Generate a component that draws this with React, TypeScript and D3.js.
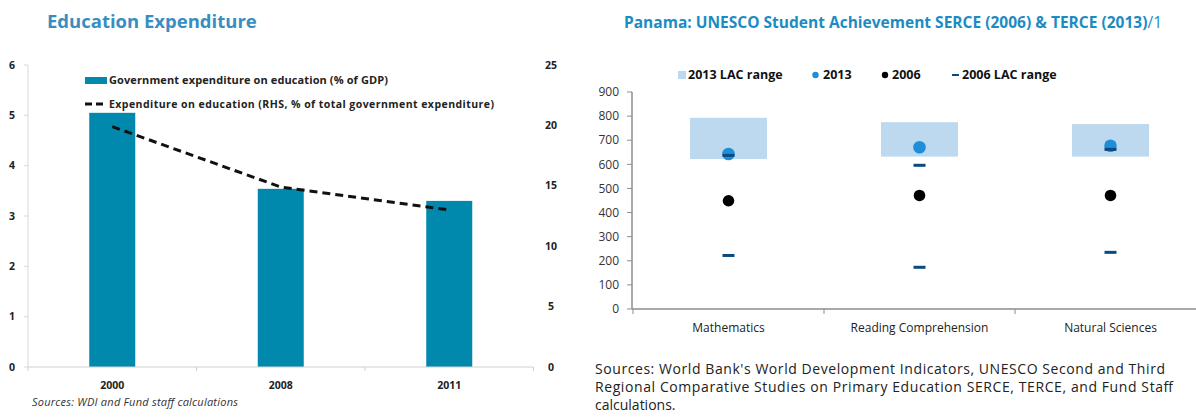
import React from "react";
import * as d3 from "d3";

// ---------- Left chart data ----------
const years = ["2000", "2008", "2011"];
const gdpShare = [5.05, 3.54, 3.3];
const totalShare = [19.9, 14.9, 13.0];
const leftTicks = [0, 1, 2, 3, 4, 5, 6];
const rightTicks = [0, 5, 10, 15, 20, 25];

// ---------- Right chart data ----------
const subjects = ["Mathematics", "Reading Comprehension", "Natural Sciences"];
const lac2013Low = [622, 632, 632];
const lac2013High = [793, 775, 767];
const score2013 = [643, 671, 677];
const score2006 = [449, 471, 471];
const lac2006Low = [222, 173, 235];
const lac2006High = [637, 596, 662];
const scoreTicks = [0, 100, 200, 300, 400, 500, 600, 700, 800, 900];

const FONT = "'Open Sans', 'Noto Sans', sans-serif";

export default function App() {
  // Left chart scales
  const xL = d3.scaleBand<string>().domain(years).range([28, 533.5]).paddingInner(0).paddingOuter(0);
  const yL = d3.scaleLinear().domain([0, 6]).range([367, 65]);
  const yR = d3.scaleLinear().domain([0, 25]).range([367, 65]);
  const barW = 46;
  const line = d3
    .line<number>()
    .x((_, i) => (xL(years[i]) as number) + xL.bandwidth() / 2)
    .y((d) => yR(d));

  // Right chart scales
  const xS = d3.scaleBand<string>().domain(subjects).range([633, 1206]);
  const yS = d3.scaleLinear().domain([0, 900]).range([309, 92]);
  const boxW = 77;

  return (
    <svg
      width={1196}
      height={419}
      style={{ position: "absolute", left: 0, top: 0, background: "#fff" }}
      fontFamily={FONT}
    >
      {/* ================= LEFT CHART ================= */}
      <text x={47} y={28} fontSize={18.5} fontWeight="bold" fill="#3a8dc0">
        Education Expenditure
      </text>

      {/* left axis */}
      <line x1={28} x2={28} y1={yL(6)} y2={yL(0)} stroke="#d9d9d9" />
      {leftTicks.map((t) => (
        <g key={"lt" + t}>
          <line x1={24} x2={28} y1={yL(t)} y2={yL(t)} stroke="#d9d9d9" />
          <text x={12} y={yL(t)} dy="0.35em" fontSize={10.5} fontWeight="bold" textAnchor="middle" fill="#222">
            {t}
          </text>
        </g>
      ))}
      {rightTicks.map((t) => (
        <text key={"rt" + t} x={551} y={yR(t)} dy="0.35em" fontSize={10.5} fontWeight="bold" textAnchor="middle" fill="#222">
          {t}
        </text>
      ))}

      {/* bars */}
      {years.map((y, i) => (
        <rect
          key={"b" + y}
          x={(xL(y) as number) + xL.bandwidth() / 2 - barW / 2}
          y={yL(gdpShare[i])}
          width={barW}
          height={yL(0) - yL(gdpShare[i])}
          fill="#0189ad"
        />
      ))}

      {/* baseline */}
      <line x1={28} x2={533.5} y1={yL(0)} y2={yL(0)} stroke="#d0d0d0" />
      {[...years.map((y) => xL(y) as number), 533.5].map((x, i) => (
        <line key={"xt" + i} x1={x} x2={x} y1={yL(0)} y2={yL(0) + 4} stroke="#d0d0d0" />
      ))}
      {years.map((y) => (
        <text
          key={"xl" + y}
          x={(xL(y) as number) + xL.bandwidth() / 2}
          y={385}
          dy="0.35em"
          fontSize={10.5}
          fontWeight="bold"
          textAnchor="middle"
          fill="#222"
        >
          {y}
        </text>
      ))}

      {/* dashed line */}
      <path d={line(totalShare) as string} fill="none" stroke="#111" strokeWidth={3} strokeDasharray="8,5" />

      {/* legend */}
      <rect x={85} y={77} width={22} height={7} fill="#0189ad" />
      <text x={109} y={80.5} dy="0.35em" fontSize={11} fontWeight="bold" fill="#222" textLength={279}>
        Government expenditure on education (% of GDP)
      </text>
      <line x1={85} x2={104} y1={104} y2={104} stroke="#111" strokeWidth={3} strokeDasharray="7,4" />
      <text x={109} y={104} dy="0.35em" fontSize={10.5} fontWeight="bold" fill="#222" textLength={385}>
        Expenditure on education  (RHS, % of total government expenditure)
      </text>

      <text x={32} y={402} dy="0.35em" fontSize={11} fontStyle="italic" fill="#333" textLength={206}>
        Sources: WDI and Fund staff calculations
      </text>

      {/* ================= RIGHT CHART ================= */}
      <text x={624} y={28} fontSize={15.5} fontWeight="bold" fill="#1b8cc3" textLength={538}>
        Panama: UNESCO Student Achievement SERCE (2006) &amp; TERCE (2013)
        <tspan fontWeight="normal">/1</tspan>
      </text>

      {/* legend */}
      <rect x={678} y={71} width={8} height={8} fill="#bdd9f0" />
      <text x={688} y={75} dy="0.35em" fontSize={12.5} fontWeight="bold" fill="#111">
        2013 LAC range
      </text>
      <circle cx={815.5} cy={75} r={3.2} fill="#1f8ed8" />
      <text x={823} y={75} dy="0.35em" fontSize={12.5} fontWeight="bold" fill="#111">
        2013
      </text>
      <circle cx={885} cy={75} r={3.2} fill="#000" />
      <text x={892} y={75} dy="0.35em" fontSize={12.5} fontWeight="bold" fill="#111">
        2006
      </text>
      <rect x={952} y={74} width={7} height={2} fill="#0b4a80" />
      <text x={962} y={75} dy="0.35em" fontSize={12.5} fontWeight="bold" fill="#111">
        2006 LAC range
      </text>

      {/* y axis */}
      <line x1={632} x2={632} y1={yS(900)} y2={yS(0)} stroke="#8c8c8c" strokeWidth={1.5} />
      {scoreTicks.map((t) => (
        <g key={"st" + t}>
          <line x1={627} x2={632} y1={yS(t)} y2={yS(t)} stroke="#8c8c8c" />
          <text x={619} y={yS(t)} dy="0.35em" fontSize={12} textAnchor="end" fill="#333">
            {t}
          </text>
        </g>
      ))}

      {/* range boxes */}
      {subjects.map((s, i) => (
        <rect
          key={"box" + s}
          x={(xS(s) as number) + xS.bandwidth() / 2 - boxW / 2}
          y={yS(lac2013High[i])}
          width={boxW}
          height={yS(lac2013Low[i]) - yS(lac2013High[i])}
          fill="#bdd9f0"
        />
      ))}
      {subjects.map((s, i) => (
        <circle key={"d13" + s} cx={(xS(s) as number) + xS.bandwidth() / 2} cy={yS(score2013[i])} r={6.3} fill="#1f8ed8" />
      ))}
      {subjects.map((s, i) => (
        <circle key={"d06" + s} cx={(xS(s) as number) + xS.bandwidth() / 2} cy={yS(score2006[i])} r={5.8} fill="#000" />
      ))}
      {subjects.map((s, i) => (
        <g key={"r06" + s}>
          <rect x={(xS(s) as number) + xS.bandwidth() / 2 - 6} y={yS(lac2006High[i]) - 1.5} width={12} height={3} fill="#0b4a80" />
          <rect x={(xS(s) as number) + xS.bandwidth() / 2 - 6} y={yS(lac2006Low[i]) - 1.5} width={12} height={3} fill="#0b4a80" />
        </g>
      ))}

      {/* x axis */}
      <line x1={632} x2={1196} y1={yS(0)} y2={yS(0)} stroke="#8c8c8c" strokeWidth={1.5} />
      {subjects.map((s) => (
        <line key={"sxt" + s} x1={xS(s) as number} x2={xS(s) as number} y1={yS(0)} y2={yS(0) + 5} stroke="#8c8c8c" />
      ))}
      {subjects.map((s) => (
        <text
          key={"sxl" + s}
          x={(xS(s) as number) + xS.bandwidth() / 2}
          y={328}
          dy="0.35em"
          fontSize={12}
          textAnchor="middle"
          fill="#222"
        >
          {s}
        </text>
      ))}

      {/* sources */}
      <text x={595} y={374} fontSize={14} fill="#222" textLength={570}>
        Sources: World Bank's World Development Indicators, UNESCO Second and Third
      </text>
      <text x={595} y={392} fontSize={14} fill="#222" textLength={578}>
        Regional Comparative Studies on Primary Education SERCE, TERCE, and Fund Staff
      </text>
      <text x={595} y={410} fontSize={14} fill="#222">
        calculations.
      </text>
    </svg>
  );
}
